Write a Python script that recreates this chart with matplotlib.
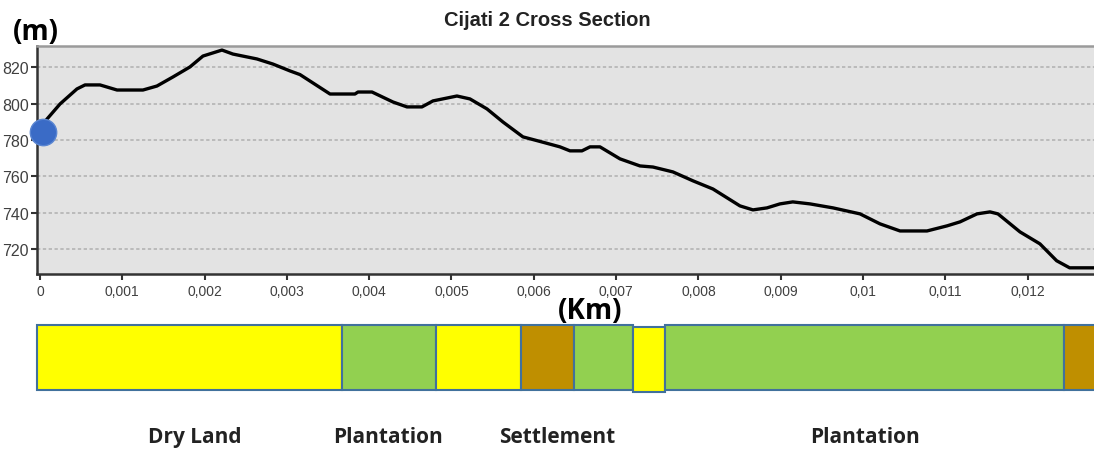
import matplotlib.pyplot as plt
from matplotlib.ticker import FuncFormatter, MultipleLocator

# elevation profile (distance in km, elevation in m)
dist = [0.000085, 0.000243, 0.000449, 0.000547, 0.000729, 0.000936, 0.001251, 0.001421,
        0.001616, 0.001822, 0.001980, 0.002211, 0.002344, 0.002636, 0.002830, 0.003038,
        0.003159, 0.003524, 0.003827, 0.003864, 0.004034, 0.004289, 0.004459, 0.004641,
        0.004775, 0.005066, 0.005224, 0.005431, 0.005625, 0.005868, 0.006050, 0.006318,
        0.006440, 0.006585, 0.006683, 0.006804, 0.007047, 0.007290, 0.007448, 0.007691,
        0.007934, 0.008177, 0.008505, 0.008663, 0.008833, 0.008991, 0.009147, 0.009356,
        0.009636, 0.009964, 0.010207, 0.010450, 0.010778, 0.011021, 0.011179, 0.011385,
        0.011543, 0.011640, 0.011907, 0.012150, 0.012353, 0.012511, 0.012802]
elev = [791.5, 799.8, 808.1, 810.3, 810.3, 807.5, 807.5, 809.7,
        814.7, 820.2, 826.2, 829.5, 827.3, 824.6, 821.8, 818.0,
        816.0, 805.3, 805.3, 806.4, 806.4, 800.9, 798.2, 798.2,
        801.5, 804.2, 802.6, 797.1, 789.9, 781.7, 779.5, 776.2,
        774.0, 774.0, 776.2, 776.2, 769.6, 765.7, 765.1, 762.4,
        757.5, 753.0, 743.7, 741.5, 742.6, 744.8, 745.9, 744.8,
        742.6, 739.3, 733.8, 729.9, 729.9, 732.7, 734.9, 739.3,
        740.4, 739.3, 729.4, 722.8, 713.5, 709.6, 709.6]
start_pt = (0.0000365, 784.4)

# land use strip
seg_start = [-0.0000365, 0.003668, 0.004810, 0.005842, 0.006486, 0.007203, 0.007591, 0.012438]
seg_end = [0.003668, 0.004810, 0.005842, 0.006486, 0.007203, 0.007591, 0.012438, 0.0130]
seg_type = ['dry', 'plant', 'dry', 'settle', 'plant', 'dry', 'plant', 'settle']
land_labels = ['Dry Land', 'Plantation', 'Settlement', 'Plantation']
label_x = [0.001883, 0.004227, 0.00628, 0.01002]

colors = {'dry': '#ffff00', 'plant': '#92d050', 'settle': '#bf8f00'}

fig = plt.figure(figsize=(10.94, 4.52), dpi=100)
W, H = 1094.0, 452.0

# profile axes
ax = fig.add_axes([37 / W, 1 - 275 / H, (1094 - 37) / W, (275 - 46.7) / H])
ax.set_facecolor('#e3e3e3')
ax.plot(dist, elev, color='black', lw=2.4, solid_joinstyle='round')
ax.plot(*start_pt, 'o', ms=19, color='#3a6bc6', mec='#5a86d2', mew=1, clip_on=False, zorder=5)
ax.set_xlim(-0.0000365, 0.012807)
ax.set_ylim(706.2, 831.9)
ax.yaxis.set_major_locator(MultipleLocator(20))
ax.xaxis.set_major_locator(MultipleLocator(0.001))
ax.xaxis.set_major_formatter(FuncFormatter(lambda v, p: '{:g}'.format(round(v, 4)).replace('.', ',')))
ax.grid(axis='y', color='#b4b4b4', ls=(0, (2, 1.5)), lw=1.2)
ax.set_axisbelow(True)
for s in ['left', 'bottom']:
    ax.spines[s].set_color('#333333')
    ax.spines[s].set_linewidth(1.8)
ax.spines['top'].set_color('#9a9a9a')
ax.spines['top'].set_linewidth(1.8)
ax.spines['right'].set_visible(False)
ax.tick_params(labelsize=10, colors='#333333', labelcolor='#404040', length=4, width=1.5)
ax.tick_params(axis='y', labelsize=11.5, pad=2)
for t in ax.get_xticklabels() + ax.get_yticklabels():
    t.set_fontfamily('Liberation Sans')

fig.text(547 / W, 1 - 20 / H, 'Cijati 2 Cross Section', ha='center', va='center',
         fontsize=14.5, fontweight='bold', color='#222222', family='Liberation Sans')
fig.text(36 / W, 1 - 33 / H, '(m)', ha='center', va='center', fontsize=20,
         fontweight='bold', family='Open Sans')
fig.text(590 / W, 1 - 312 / H, '(Km)', ha='center', va='center', fontsize=20,
         fontweight='bold', family='Open Sans')

# land use axes
ax2 = fig.add_axes([37 / W, 1 - 393 / H, (1094 - 37) / W, 67 / H])
ax2.set_xlim(ax.get_xlim())
ax2.set_ylim(0, 67)
for x0, x1, t in zip(seg_start, seg_end, seg_type):
    bottom = 0 if (t == 'dry' and x1 - x0 < 0.001) else 2
    ax2.bar(x0, 65, width=x1 - x0, bottom=bottom, align='edge', color=colors[t],
            edgecolor='#41719c', lw=1.5, clip_on=False)
ax2.axis('off')
for x, lab in zip(label_x, land_labels):
    ax2.text(x, -45, lab, ha='center', va='center', fontsize=15, fontweight='bold',
             family='Open Sans', color='#222222')

fig.savefig('out.png', dpi=100)
